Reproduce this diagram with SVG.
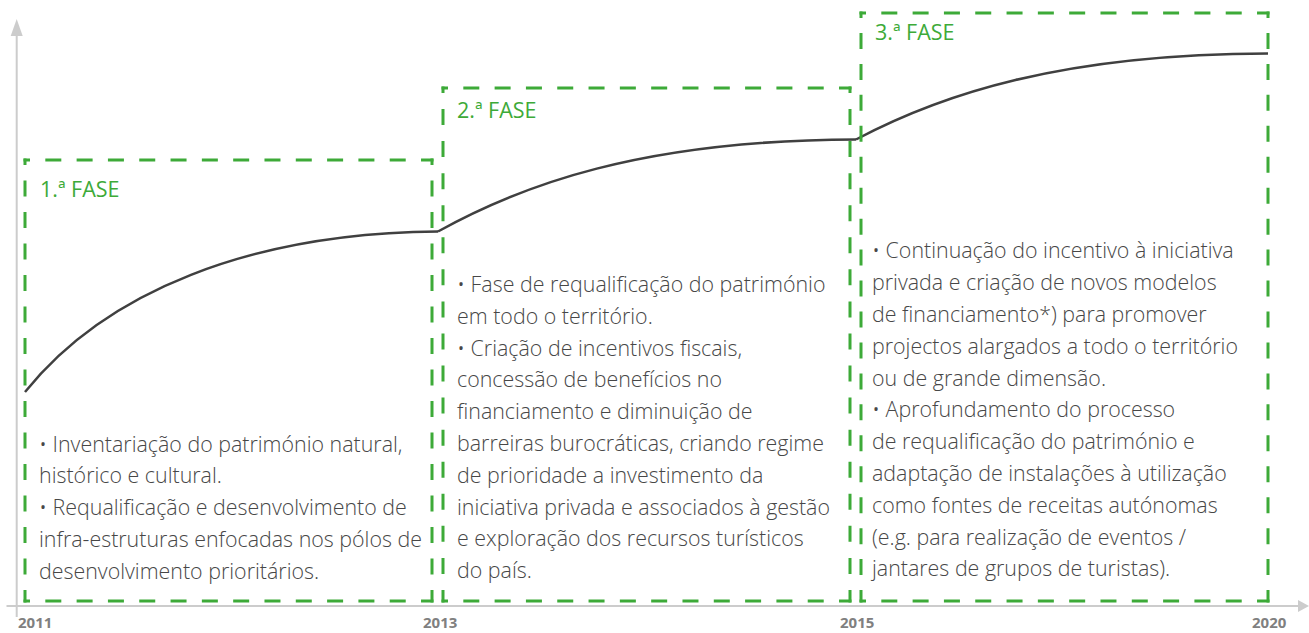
<svg xmlns="http://www.w3.org/2000/svg" width="1309" height="633" viewBox="0 0 1309 633">
<style>
.bg{fill:#ffffff}
.axis{stroke:#cccccc;stroke-width:2;fill:none}
.axhead{fill:#cccccc}
.curve{stroke:#404040;stroke-width:2.5;fill:none;stroke-linejoin:round}
.d{stroke:#3daa38;stroke-width:3;fill:none;stroke-linecap:butt}
.lbl{font-family:"Open Sans","Noto Sans",sans-serif;font-size:21.5px;fill:#3daa38}
.txt{font-family:"Open Sans","Noto Sans",sans-serif;font-size:21.4px;font-weight:300;fill:#474747}
.yr{font-family:"Open Sans","Noto Sans",sans-serif;font-size:15px;font-weight:700;fill:#808080}
</style>
<rect class="bg" x="0" y="0" width="1309" height="633"/>
<g id="axes">
<line class="axis" x1="16.7" y1="34" x2="16.7" y2="617"/>
<polygon class="axhead" points="16.7,19 10.7,36 22.7,36"/>
<line class="axis" x1="6.5" y1="606" x2="1300" y2="606"/>
<polygon class="axhead" points="1309,606 1298,600 1298,612"/>
<text class="yr" x="18" y="628">2011</text>
<text class="yr" x="423" y="628">2013</text>
<text class="yr" x="840" y="628">2015</text>
<text class="yr" x="1252" y="628">2020</text>
</g>
<g id="connectors">
<path class="curve" d="M25,392 C105,292 250,233 438,231.5"/>
<path class="curve" d="M438,231.5 C520,186 640,140 856,139.5"/>
<path class="curve" d="M856,139.5 C940,95 1060,54 1268,53.5"/>
</g>
<g id="phase1">
<line class="d" x1="23.5" y1="160" x2="433.5" y2="160" stroke-dasharray="16 15.31" stroke-dashoffset="9.5"/>
<line class="d" x1="23.5" y1="601" x2="433.5" y2="601" stroke-dasharray="16 15.31" stroke-dashoffset="9.5"/>
<line class="d" x1="25" y1="158.5" x2="25" y2="602.5" stroke-dasharray="16 15.5" stroke-dashoffset="9.5"/>
<line class="d" x1="432" y1="158.5" x2="432" y2="602.5" stroke-dasharray="16 15.5" stroke-dashoffset="9.5"/>
<text class="lbl" x="40" y="197">1.ª FASE</text>
<text class="txt"><tspan x="39" y="451.5">• Inventariação do património natural,</tspan><tspan x="39" dy="31.8">histórico e cultural.</tspan><tspan x="39" dy="31.8">• Requalificação e desenvolvimento de</tspan><tspan x="39" dy="31.8">infra-estruturas enfocadas nos pólos de</tspan><tspan x="39" dy="31.8">desenvolvimento prioritários.</tspan></text>
</g>
<g id="phase2">
<line class="d" x1="441.5" y1="88" x2="851.5" y2="88" stroke-dasharray="16 15.31" stroke-dashoffset="9.5"/>
<line class="d" x1="441.5" y1="601" x2="851.5" y2="601" stroke-dasharray="16 15.31" stroke-dashoffset="9.5"/>
<line class="d" x1="443" y1="86.5" x2="443" y2="602.5" stroke-dasharray="16 16.06" stroke-dashoffset="9.5"/>
<line class="d" x1="850" y1="86.5" x2="850" y2="602.5" stroke-dasharray="16 16.06" stroke-dashoffset="9.5"/>
<text class="lbl" x="457" y="118">2.ª FASE</text>
<text class="txt"><tspan x="457" y="292">• Fase de requalificação do património</tspan><tspan x="457" dy="31.8">em todo o território.</tspan><tspan x="457" dy="31.8">• Criação de incentivos fiscais,</tspan><tspan x="457" dy="31.8">concessão de benefícios no</tspan><tspan x="457" dy="31.8">financiamento e diminuição de</tspan><tspan x="457" dy="31.8">barreiras burocráticas, criando regime</tspan><tspan x="457" dy="31.8">de prioridade a investimento da</tspan><tspan x="457" dy="31.8">iniciativa privada e associados à gestão</tspan><tspan x="457" dy="31.8">e exploração dos recursos turísticos</tspan><tspan x="457" dy="31.8">do país.</tspan></text>
</g>
<g id="phase3">
<line class="d" x1="859.5" y1="13" x2="1269.5" y2="13" stroke-dasharray="16 15.31" stroke-dashoffset="9.5"/>
<line class="d" x1="859.5" y1="601" x2="1269.5" y2="601" stroke-dasharray="16 15.31" stroke-dashoffset="9.5"/>
<line class="d" x1="861" y1="11.5" x2="861" y2="602.5" stroke-dasharray="16 14.95" stroke-dashoffset="9.5"/>
<line class="d" x1="1268" y1="11.5" x2="1268" y2="602.5" stroke-dasharray="16 14.95" stroke-dashoffset="9.5"/>
<text class="lbl" x="875" y="39.5">3.ª FASE</text>
<text class="txt"><tspan x="872" y="258.3">• Continuação do incentivo à iniciativa</tspan><tspan x="872" dy="31.8">privada e criação de novos modelos</tspan><tspan x="872" dy="31.8">de financiamento*) para promover</tspan><tspan x="872" dy="31.8">projectos alargados a todo o território</tspan><tspan x="872" dy="31.8">ou de grande dimensão.</tspan><tspan x="872" dy="31.8">• Aprofundamento do processo</tspan><tspan x="872" dy="31.8">de requalificação do património e</tspan><tspan x="872" dy="31.8">adaptação de instalações à utilização</tspan><tspan x="872" dy="31.8">como fontes de receitas autónomas</tspan><tspan x="872" dy="31.8">(e.g. para realização de eventos /</tspan><tspan x="872" dy="31.8">jantares de grupos de turistas).</tspan></text>
</g>
</svg>
